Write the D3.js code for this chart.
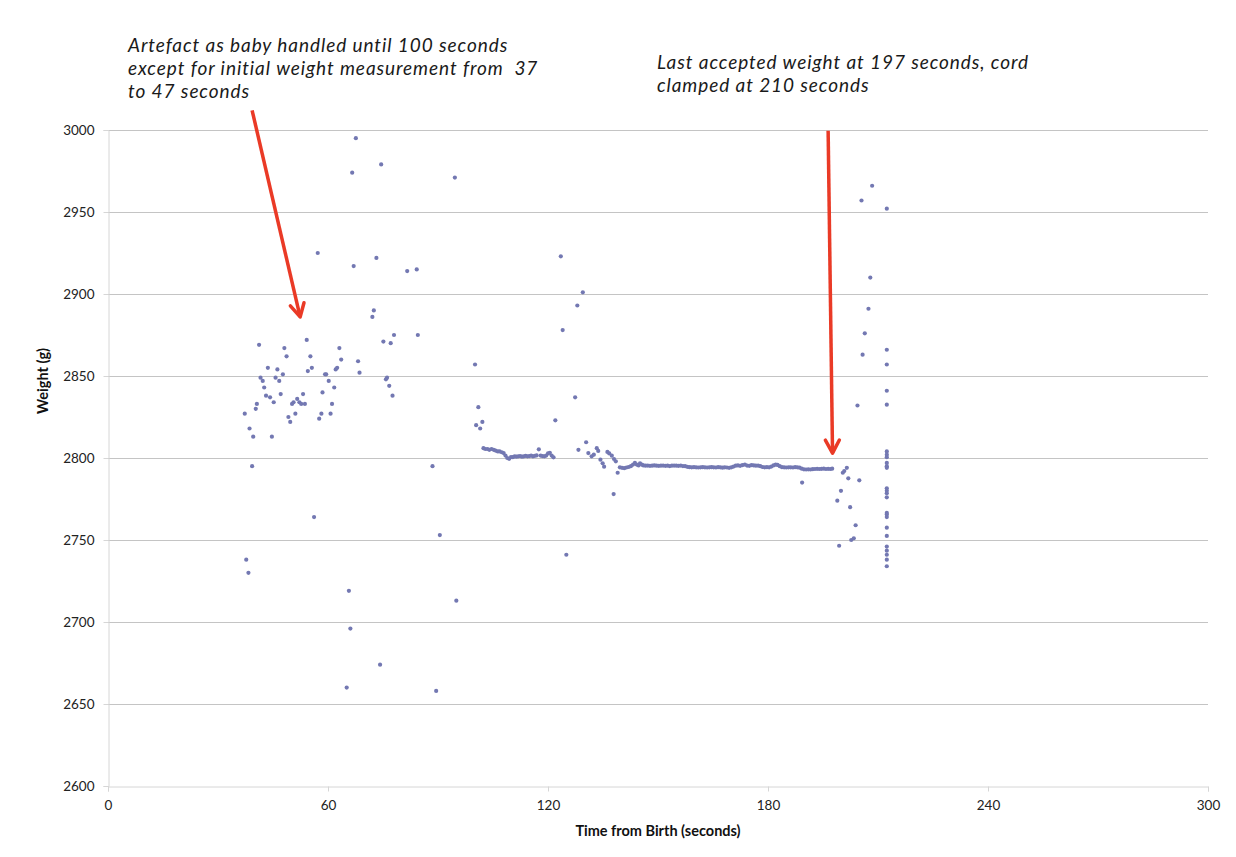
<!DOCTYPE html>
<html>
<head>
<meta charset="utf-8">
<script src="https://cdn.jsdelivr.net/npm/d3@7"></script>
<style>
  body { margin: 0; background: #fff; }
  svg { display: block; }
</style>
</head>
<body>
<svg id="chart"></svg>
<script>
// axis ticks
const xTicks = [0, 60, 120, 180, 240, 300];
const yTicks = [2600, 2650, 2700, 2750, 2800, 2850, 2900, 2950, 3000];

// baby handled (artefact), 37 - 102 s
const handledTime = [37.3, 37.7, 38.3, 38.6, 39.3, 39.6, 40.3, 40.6, 41.2, 41.6, 42.2, 42.6, 43.1, 43.6, 44.2, 44.7,
  45.2, 45.7, 46.2, 46.7, 47.1, 47.7, 48.1, 48.7, 49.2, 49.7, 50.2, 50.6, 51.1, 51.6, 52.2, 52.7, 53.2, 53.7,
  54.2, 54.5, 55.2, 55.6, 56.2, 57.2, 57.6, 58.2, 58.5, 59.2, 59.5, 60.2, 60.7, 61.1, 61.7, 62.1, 62.5, 63.1, 63.6,
  65.1, 65.7, 66.1, 66.6, 67.0, 67.6, 68.2, 68.6, 72.1, 72.5, 73.2, 74.2, 74.5, 75.1, 75.8, 76.1, 76.7, 77.1,
  77.6, 78.0, 81.6, 84.2, 84.5, 88.5, 89.5, 90.5, 94.6, 95.0, 100.1, 100.4, 101.0, 101.5, 102.1];
const handledWeight = [2827, 2738, 2730, 2818, 2795, 2813, 2830, 2833, 2869, 2849, 2847, 2843, 2838, 2855, 2837, 2813,
  2834, 2849, 2854, 2847, 2839, 2851, 2867, 2862, 2825, 2822, 2833, 2834, 2827, 2836, 2834, 2833, 2839, 2833,
  2872, 2853, 2862, 2855, 2764, 2925, 2824, 2827, 2840, 2851, 2851, 2847, 2827, 2833, 2843, 2854, 2855, 2867, 2860,
  2660, 2719, 2696, 2974, 2917, 2995, 2859, 2852, 2886, 2890, 2922, 2674, 2979, 2871, 2848, 2849, 2844, 2870,
  2838, 2875, 2914, 2915, 2875, 2795, 2658, 2753, 2971, 2713, 2857, 2820, 2831, 2818, 2822];

// first settled run, 102 - 122 s
const settleTime = [102.4, 102.9, 103.5, 104.0, 104.6, 105.2, 105.7, 106.3, 106.8, 107.4, 107.9, 108.4, 108.9, 109.4,
  109.9, 110.4, 110.9, 111.4, 111.9, 112.4, 112.9, 113.4, 113.9, 114.4, 114.9, 115.4, 115.9, 116.4, 116.9, 117.5,
  118.0, 118.5, 119.0, 119.5, 120.0, 120.5, 121.0, 121.5];
const settleWeight = [2806, 2805.5, 2805.5, 2805, 2805.5, 2805, 2804.5, 2804, 2804, 2803.5, 2803, 2801.5, 2800, 2799.5,
  2800.5, 2800.5, 2801, 2800.8, 2801, 2801.2, 2800.8, 2801, 2801.3, 2801, 2801.2, 2801.5, 2801, 2801.3, 2801.6, 2805.3,
  2801.5, 2801.2, 2801, 2801.5, 2802.8, 2803.2, 2801.5, 2800.4];

// disturbance 122 - 139 s
const bumpTime = [122.0, 123.5, 124.0, 125.0, 127.4, 128.0, 128.3, 129.5, 130.4, 131.0, 131.9, 132.5, 133.3, 133.7,
  134.3, 134.9, 135.3, 136.2, 136.7, 137.4, 137.9, 138.0, 138.5, 139.0];
const bumpWeight = [2823, 2923, 2878, 2741, 2837, 2893, 2805, 2901, 2809.6, 2803, 2801, 2802, 2806, 2804.3,
  2799, 2796.8, 2794.7, 2803.7, 2802.8, 2801.4, 2778, 2799.4, 2798, 2791];

// accepted weight, 139.6 - 197.5 s
const stableTime = [139.6, 140.2, 140.8, 141.4, 142.0, 142.6, 143.2, 143.7, 144.2, 144.7, 145.1, 145.6, 146.0, 146.6,
  147.2, 147.8, 148.4, 149.0, 149.6, 150.2, 150.8, 151.4, 152.0, 152.6, 153.2, 153.8, 154.4, 155.0, 155.6, 156.2,
  156.8, 157.4, 158.0, 158.6, 159.2, 159.8, 160.4, 161.0, 161.6, 162.2, 162.8, 163.4, 164.0, 164.6, 165.2, 165.8,
  166.4, 167.0, 167.6, 168.2, 168.8, 169.4, 170.0, 170.6, 171.2, 171.8, 172.4, 173.0, 173.7, 174.3, 174.9, 175.5,
  176.1, 176.7, 177.3, 177.9, 178.5, 179.1, 179.7, 180.3, 180.9, 181.5, 182.1, 182.6, 183.2, 183.8, 184.4, 185.0,
  185.6, 186.2, 186.8, 187.4, 188.0, 188.6, 189.2, 189.3, 189.8, 190.4, 191.0, 191.6, 192.2, 192.8, 193.4, 194.0,
  194.6, 195.2, 195.8, 196.4, 197.0, 197.5];
const stableWeight = [2794.3, 2794, 2793.8, 2794.2, 2794.5, 2795, 2796, 2797, 2796, 2795.5, 2796.8, 2796, 2795.5, 2795.3,
  2795.4, 2795.2, 2795.3, 2795.5, 2795.3, 2795.2, 2795.3, 2795.4, 2795.2, 2795.3, 2795.1, 2795.3, 2795.4, 2795.3, 2795.2, 2795.4,
  2795.1, 2795, 2794.6, 2794.4, 2794.3, 2794.4, 2794.3, 2794.2, 2794.3, 2794.4, 2794.3, 2794.2, 2794.3, 2794.4, 2794.3, 2794.2,
  2794.4, 2794.3, 2794.1, 2794.3, 2794.2, 2794, 2794.3, 2794.8, 2795.3, 2795.5, 2795.2, 2795.6, 2796, 2795.4, 2795.2, 2795.6,
  2795.5, 2795.3, 2795.4, 2795, 2794.5, 2794.3, 2794.4, 2794.3, 2794.8, 2795.5, 2796, 2795.8, 2795, 2794.4, 2794.3, 2794.2,
  2794.3, 2794.3, 2794.2, 2794.4, 2794.3, 2794.1, 2793.5, 2785, 2793.1, 2793, 2793.1, 2793, 2793.2, 2793.3, 2793.4, 2793.3,
  2793.4, 2793.5, 2793.3, 2793.4, 2793.3, 2793.5];

// after 197 s until cord clamped
const clampTime = [198.9, 199.4, 199.9, 200.4, 200.8, 201.5, 201.9, 202.4, 202.7, 203.4, 203.9, 204.4, 204.9, 205.5,
  205.8, 206.4, 207.4, 207.9, 208.4,
  212.4, 212.4, 212.4, 212.4, 212.4, 212.4, 212.4, 212.4, 212.4, 212.4, 212.4, 212.4, 212.4, 212.4, 212.4, 212.4,
  212.4, 212.4, 212.4, 212.4, 212.4, 212.4, 212.4, 212.4, 212.4];
const clampWeight = [2774, 2746.5, 2780, 2791, 2792, 2794, 2787.6, 2770, 2750, 2751, 2759, 2832, 2786.4, 2957,
  2863, 2876, 2891, 2910, 2966,
  2952, 2866, 2857, 2841, 2832.5, 2804, 2802, 2800.5, 2797, 2795, 2794, 2781.5, 2780, 2778.5, 2776, 2766.5,
  2765.5, 2764, 2757.5, 2752.5, 2746, 2743.5, 2741, 2738, 2734];

// annotations (arrow from / to, in data units)
const note1Lines = ["Artefact as baby handled until 100 seconds",
  "except for initial weight measurement from  37",
  "to 47 seconds"];
const note2Lines = ["Last accepted weight at 197 seconds, cord",
  "clamped at 210 seconds"];
const arrow1 = [[39.3, 3012], [52.4, 2886]];
const arrow2 = [[196.4, 2999.5], [197.6, 2803]];

const W = 1236, H = 857;
const PLOT = { left: 108, right: 1208, top: 130, bottom: 786 };
const FONT = "Lato, 'Open Sans', sans-serif";

const svg = d3.select("#chart").attr("width", W).attr("height", H);
svg.append("rect").attr("width", W).attr("height", H).attr("fill", "white");

const x = d3.scaleLinear().domain([0, 300]).range([PLOT.left, PLOT.right]);
const y = d3.scaleLinear().domain([2600, 3000]).range([PLOT.bottom, PLOT.top]);

// gridlines
svg.append("g")
  .selectAll("line")
  .data(yTicks.filter(d => d > 2600))
  .join("line")
  .attr("x1", PLOT.left).attr("x2", PLOT.right)
  .attr("y1", d => Math.round(y(d)) + 0.5).attr("y2", d => Math.round(y(d)) + 0.5)
  .attr("stroke", "#c4c4c4").attr("stroke-width", 1);

// axes
const xAxis = svg.append("g")
  .attr("transform", `translate(0,${PLOT.bottom + 0.5})`)
  .call(d3.axisBottom(x).tickValues(xTicks).tickSize(5).tickPadding(9).tickFormat(d3.format("d")));
const yAxis = svg.append("g")
  .attr("transform", `translate(${PLOT.left + 0.5},0)`)
  .call(d3.axisLeft(y).tickValues(yTicks).tickSize(5).tickPadding(9).tickFormat(d3.format("d")));

[xAxis, yAxis].forEach(a => {
  a.select(".domain").attr("stroke", "#d6d6d6");
  a.selectAll(".tick line").attr("stroke", "#d6d6d6");
  a.selectAll(".tick text")
    .attr("fill", "#222")
    .style("font-family", FONT)
    .style("font-size", "13.5px");
});

// points
const series = [
  [handledTime, handledWeight],
  [settleTime, settleWeight],
  [bumpTime, bumpWeight],
  [stableTime, stableWeight],
  [clampTime, clampWeight]
];
const points = series.flatMap(([ts, ws]) => ts.map((t, i) => ({ t: t, w: ws[i] })));

svg.append("g")
  .selectAll("circle")
  .data(points)
  .join("circle")
  .attr("cx", d => x(d.t))
  .attr("cy", d => y(d.w))
  .attr("r", 2.1)
  .attr("fill", "#7378b2");

// axis titles
svg.append("text")
  .attr("x", 658)
  .attr("y", 836)
  .attr("text-anchor", "middle")
  .style("font-family", FONT)
  .style("font-weight", "bold")
  .style("font-size", "14.5px")
  .attr("fill", "#111")
  .text("Time from Birth (seconds)");

svg.append("text")
  .attr("transform", "translate(48,381) rotate(-90)")
  .attr("text-anchor", "middle")
  .style("font-family", FONT)
  .style("font-weight", "bold")
  .style("font-size", "14.5px")
  .attr("fill", "#111")
  .text("Weight (g)");

// arrows
const defs = svg.append("defs");
defs.append("marker")
  .attr("id", "head")
  .attr("markerUnits", "userSpaceOnUse")
  .attr("viewBox", "-16 -10 20 20")
  .attr("markerWidth", 20).attr("markerHeight", 20)
  .attr("refX", 0).attr("refY", 0)
  .attr("orient", "auto")
  .append("path")
  .attr("d", "M-13,-7 L0,0 L-13,7")
  .attr("fill", "none")
  .attr("stroke", "#ea3a26")
  .attr("stroke-width", 3.5)
  .attr("stroke-linecap", "round")
  .attr("stroke-linejoin", "round");

[arrow1, arrow2].forEach(a => {
  svg.append("line")
    .attr("x1", x(a[0][0])).attr("y1", y(a[0][1]))
    .attr("x2", x(a[1][0])).attr("y2", y(a[1][1]))
    .attr("stroke", "#ea3a26")
    .attr("stroke-width", 3.5)
    .attr("marker-end", "url(#head)");
});

// annotation text
function note(lines, left, top, targetWidth) {
  const g = svg.append("g");
  const t = g.selectAll("text")
    .data(lines)
    .join("text")
    .attr("x", left)
    .attr("y", (d, i) => top + i * 23.3)
    .style("font-family", FONT)
    .style("font-style", "italic")
    .style("font-size", "19px")
    .style("white-space", "pre")
    .attr("fill", "#1a1a1a")
    .text(d => d);
  // widen the letter spacing so the first line spans the width in the picture
  const first = t.nodes()[0];
  const w = first.getComputedTextLength();
  const gap = Math.max(0, (targetWidth - w) / lines[0].length);
  t.style("letter-spacing", gap + "px");
}
note(note1Lines, 128, 51.5, 380);
note(note2Lines, 657, 68.5, 372);
</script>
</body>
</html>
